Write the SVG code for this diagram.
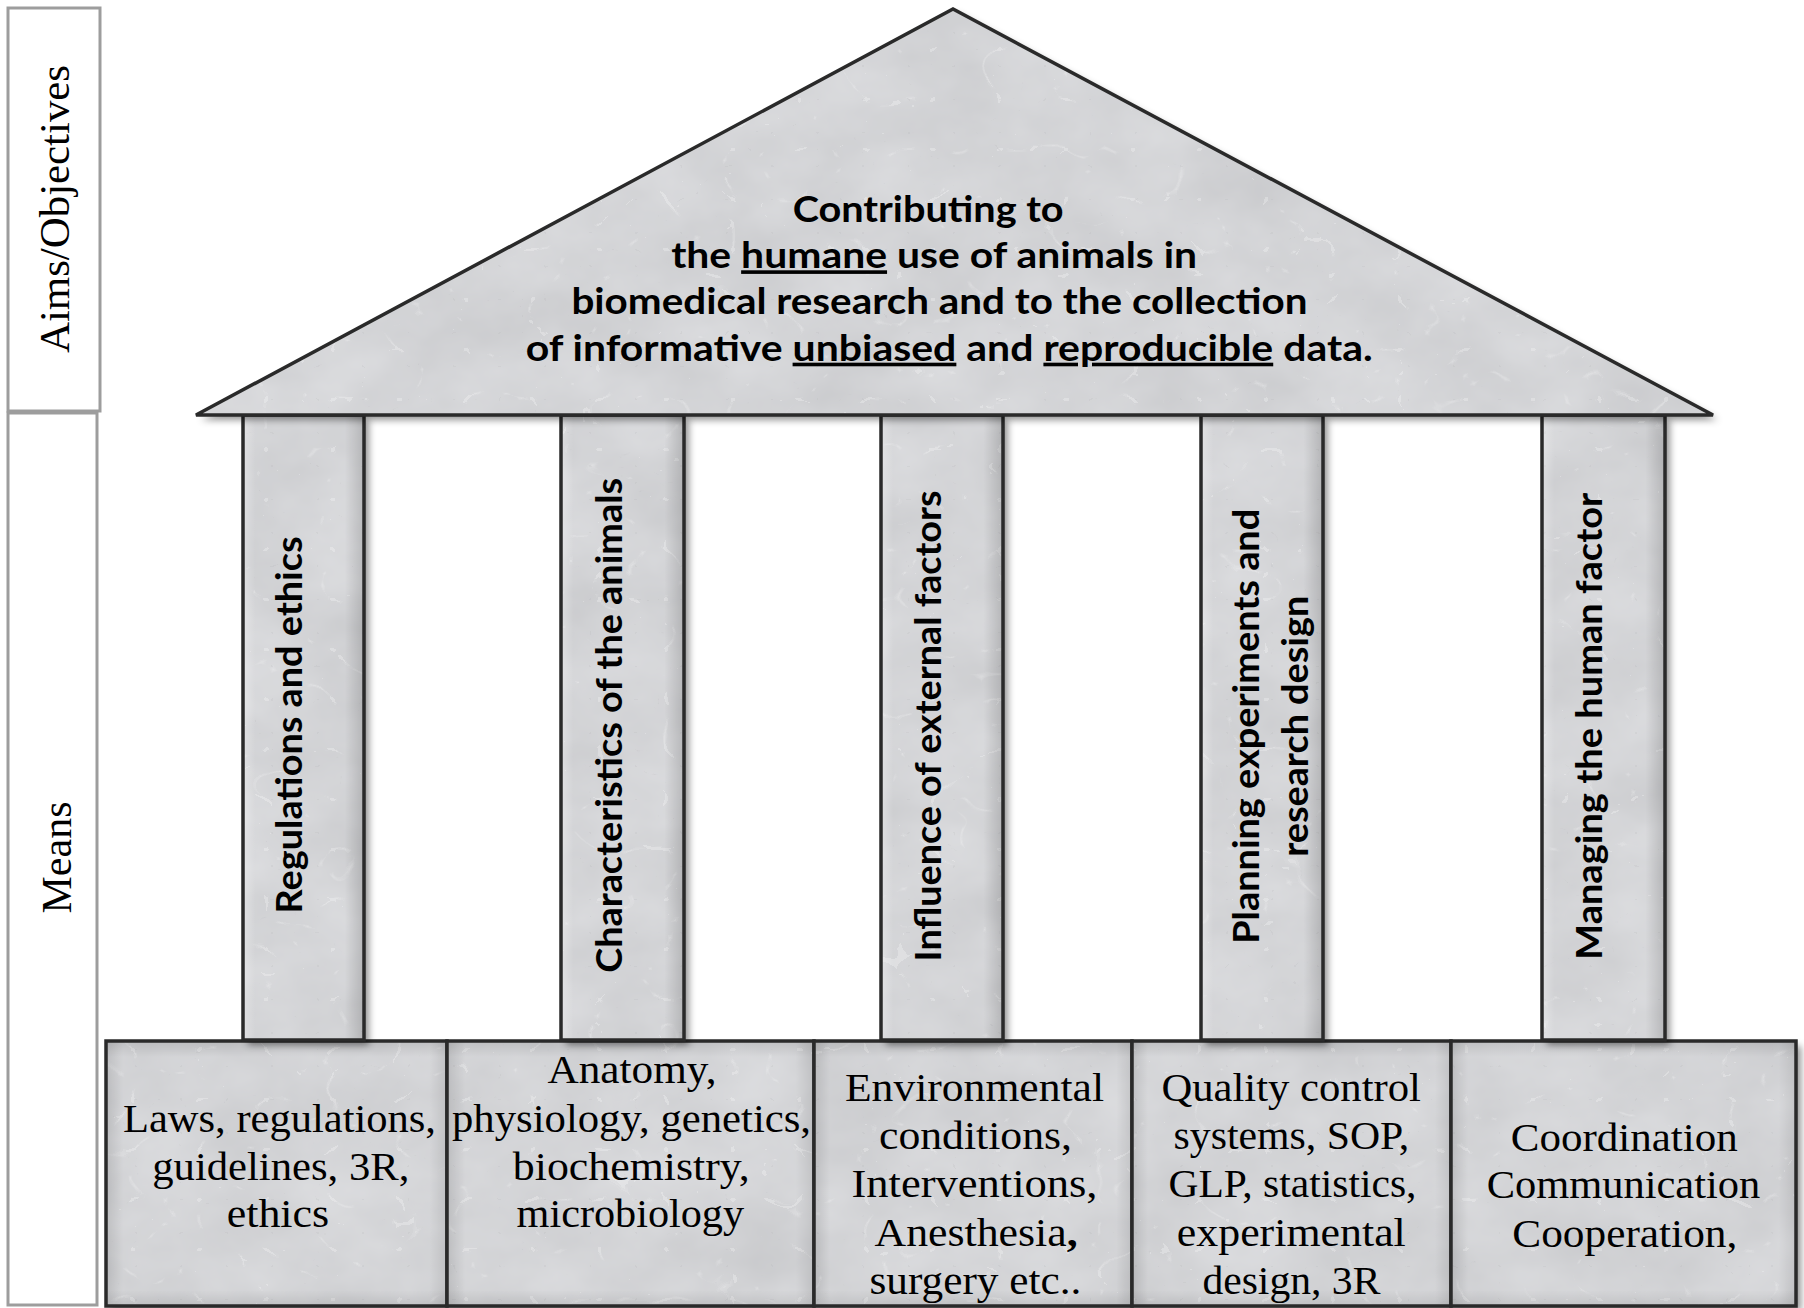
<svg xmlns="http://www.w3.org/2000/svg" width="1804" height="1308" viewBox="0 0 1804 1308">
<style>
  .side { fill: #ffffff; stroke: #9d9d9d; stroke-width: 3; }
  .sideText { font-family: "Liberation Serif", "DejaVu Serif", serif; font-size: 42px; fill: #000; }
  .stone { fill: #d3d4d6; filter: url(#stone); }
  .edge { fill: none; stroke: #2a2a2a; stroke-width: 3.5; stroke-linejoin: miter; }
  .colShade { fill: url(#colGrad); }
  .boxShadeH { fill: url(#boxGradH); }
  .boxShadeV { fill: url(#boxGradV); }
  .roofText { font-family: "Lato", "Open Sans", "Liberation Sans", sans-serif; font-weight: bold; font-size: 36px; fill: #000; }
  .colText { font-family: "Lato", "Open Sans", "Liberation Sans", sans-serif; font-weight: bold; font-size: 37px; fill: #000; }
  .baseText { font-family: "Liberation Serif", "DejaVu Serif", serif; font-size: 40px; fill: #000; }
  .u { text-decoration: underline; }
</style>
<defs>
  <filter id="stone" x="-5%" y="-5%" width="115%" height="115%" color-interpolation-filters="sRGB">
    <feTurbulence type="fractalNoise" baseFrequency="0.01 0.014" numOctaves="4" seed="9" result="n"/>
    <feColorMatrix in="n" type="matrix" values="0.08 0 0 0 0.79  0.08 0 0 0 0.793  0.08 0 0 0 0.803  0 0 0 0 1" result="base"/>
    <feTurbulence type="turbulence" baseFrequency="0.022 0.03" numOctaves="3" seed="23" result="t"/>
    <feColorMatrix in="t" type="matrix" values="0 0 0 0 0.66  0 0 0 0 0.66  0 0 0 0 0.67  -4 0 0 0 0.14" result="veins"/>
    <feTurbulence type="turbulence" baseFrequency="0.015 0.02" numOctaves="2" seed="41" result="t2"/>
    <feColorMatrix in="t2" type="matrix" values="0 0 0 0 1  0 0 0 0 1  0 0 0 0 1  -5 0 0 0 0.25" result="wveins"/>
    <feComposite in="wveins" in2="base" operator="over" result="m1"/>
    <feComposite in="veins" in2="m1" operator="over" result="m"/>
    <feComposite in="m" in2="SourceAlpha" operator="in" result="marble"/>
    <feGaussianBlur in="SourceAlpha" stdDeviation="3.5"/>
    <feOffset dx="5" dy="5" result="b"/>
    <feFlood flood-color="#000" flood-opacity="0.42"/>
    <feComposite in2="b" operator="in" result="shadow"/>
    <feMerge>
      <feMergeNode in="shadow"/>
      <feMergeNode in="marble"/>
    </feMerge>
  </filter>
  <linearGradient id="colGrad" x1="0" y1="0" x2="1" y2="0">
    <stop offset="0" stop-color="#fff" stop-opacity="0.3"/>
    <stop offset="0.1" stop-color="#fff" stop-opacity="0"/>
    <stop offset="0.84" stop-color="#000" stop-opacity="0"/>
    <stop offset="1" stop-color="#000" stop-opacity="0.15"/>
  </linearGradient>
  <linearGradient id="boxGradH" x1="0" y1="0" x2="1" y2="0">
    <stop offset="0" stop-color="#000" stop-opacity="0.11"/>
    <stop offset="0.05" stop-color="#000" stop-opacity="0"/>
    <stop offset="0.95" stop-color="#000" stop-opacity="0"/>
    <stop offset="1" stop-color="#000" stop-opacity="0.09"/>
  </linearGradient>
  <linearGradient id="boxGradV" x1="0" y1="0" x2="0" y2="1">
    <stop offset="0" stop-color="#000" stop-opacity="0.11"/>
    <stop offset="0.06" stop-color="#000" stop-opacity="0"/>
    <stop offset="0.94" stop-color="#000" stop-opacity="0"/>
    <stop offset="1" stop-color="#000" stop-opacity="0.09"/>
  </linearGradient>
</defs>

<rect width="1804" height="1308" fill="#ffffff"/>

<g id="label-aims">
  <rect class="side" x="8" y="8" width="92" height="403"/>
  <text class="sideText" transform="translate(69,209) rotate(-90)" text-anchor="middle" textLength="288" lengthAdjust="spacingAndGlyphs">Aims/Objectives</text>
</g>
<g id="label-means">
  <rect class="side" x="8" y="413" width="89" height="892"/>
  <text class="sideText" transform="translate(70.5,857.5) rotate(-90)" text-anchor="middle" textLength="112" lengthAdjust="spacingAndGlyphs">Means</text>
</g>

<g id="base-1">
  <rect class="stone" x="106" y="1041" width="341" height="265"/>
  <rect class="boxShadeH" x="106" y="1041" width="341" height="265"/>
  <rect class="boxShadeV" x="106" y="1041" width="341" height="265"/>
  <rect class="edge" x="106" y="1041" width="341" height="265"/>
  <text class="baseText">
    <tspan x="123" y="1131.7" textLength="313" lengthAdjust="spacingAndGlyphs">Laws, regulations,</tspan>
    <tspan x="152.3" y="1179.5" textLength="257" lengthAdjust="spacingAndGlyphs">guidelines, 3R,</tspan>
    <tspan x="226.7" y="1227" textLength="102.5" lengthAdjust="spacingAndGlyphs">ethics</tspan>
  </text>
</g>
<g id="base-2">
  <rect class="stone" x="447" y="1041" width="367" height="265"/>
  <rect class="boxShadeH" x="447" y="1041" width="367" height="265"/>
  <rect class="boxShadeV" x="447" y="1041" width="367" height="265"/>
  <rect class="edge" x="447" y="1041" width="367" height="265"/>
  <text class="baseText">
    <tspan x="547.5" y="1083.3" textLength="169" lengthAdjust="spacingAndGlyphs">Anatomy,</tspan>
    <tspan x="452" y="1131.7" textLength="359" lengthAdjust="spacingAndGlyphs">physiology, genetics,</tspan>
    <tspan x="512.8" y="1179.5" textLength="237" lengthAdjust="spacingAndGlyphs">biochemistry,</tspan>
    <tspan x="516.6" y="1227" textLength="227.5" lengthAdjust="spacingAndGlyphs">microbiology</tspan>
  </text>
</g>
<g id="base-3">
  <rect class="stone" x="814" y="1041" width="318" height="265"/>
  <rect class="boxShadeH" x="814" y="1041" width="318" height="265"/>
  <rect class="boxShadeV" x="814" y="1041" width="318" height="265"/>
  <rect class="edge" x="814" y="1041" width="318" height="265"/>
  <text class="baseText">
    <tspan x="845" y="1100.7" textLength="259" lengthAdjust="spacingAndGlyphs">Environmental</tspan>
    <tspan x="879" y="1149" textLength="193" lengthAdjust="spacingAndGlyphs">conditions,</tspan>
    <tspan x="851.5" y="1197.3" textLength="246" lengthAdjust="spacingAndGlyphs">Interventions,</tspan>
    <tspan x="874.6" y="1245.6" textLength="203" lengthAdjust="spacingAndGlyphs">Anesthesia<tspan font-weight="bold">,</tspan></tspan>
    <tspan x="869.4" y="1293.9" textLength="212" lengthAdjust="spacingAndGlyphs">surgery etc..</tspan>
  </text>
</g>
<g id="base-4">
  <rect class="stone" x="1132" y="1041" width="319" height="265"/>
  <rect class="boxShadeH" x="1132" y="1041" width="319" height="265"/>
  <rect class="boxShadeV" x="1132" y="1041" width="319" height="265"/>
  <rect class="edge" x="1132" y="1041" width="319" height="265"/>
  <text class="baseText">
    <tspan x="1161.4" y="1100.7" textLength="259.5" lengthAdjust="spacingAndGlyphs">Quality control</tspan>
    <tspan x="1173.6" y="1149" textLength="235.5" lengthAdjust="spacingAndGlyphs">systems, SOP,</tspan>
    <tspan x="1168.5" y="1197.3" textLength="248" lengthAdjust="spacingAndGlyphs">GLP, statistics,</tspan>
    <tspan x="1176.8" y="1245.6" textLength="229" lengthAdjust="spacingAndGlyphs">experimental</tspan>
    <tspan x="1202.4" y="1293.9" textLength="178" lengthAdjust="spacingAndGlyphs">design, 3R</tspan>
  </text>
</g>
<g id="base-5">
  <rect class="stone" x="1451" y="1041" width="345" height="265"/>
  <rect class="boxShadeH" x="1451" y="1041" width="345" height="265"/>
  <rect class="boxShadeV" x="1451" y="1041" width="345" height="265"/>
  <rect class="edge" x="1451" y="1041" width="345" height="265"/>
  <text class="baseText">
    <tspan x="1510.7" y="1150.5" textLength="227" lengthAdjust="spacingAndGlyphs">Coordination</tspan>
    <tspan x="1486.7" y="1198.3" textLength="273.5" lengthAdjust="spacingAndGlyphs">Communication</tspan>
    <tspan x="1512.3" y="1246.7" textLength="225" lengthAdjust="spacingAndGlyphs">Cooperation,</tspan>
  </text>
</g>

<g id="pillar-1">
  <rect class="stone" x="243" y="415" width="121" height="625"/>
  <rect class="colShade" x="243" y="415" width="121" height="625"/>
  <rect class="edge" x="243" y="415" width="121" height="625"/>
  <text class="colText" transform="translate(301.5,725) rotate(-90)" text-anchor="middle" textLength="377" lengthAdjust="spacingAndGlyphs">Regulations and ethics</text>
</g>
<g id="pillar-2">
  <rect class="stone" x="561" y="415" width="123" height="625"/>
  <rect class="colShade" x="561" y="415" width="123" height="625"/>
  <rect class="edge" x="561" y="415" width="123" height="625"/>
  <text class="colText" transform="translate(622,725.3) rotate(-90)" text-anchor="middle" textLength="495" lengthAdjust="spacingAndGlyphs">Characteristics of the animals</text>
</g>
<g id="pillar-3">
  <rect class="stone" x="881" y="415" width="122" height="625"/>
  <rect class="colShade" x="881" y="415" width="122" height="625"/>
  <rect class="edge" x="881" y="415" width="122" height="625"/>
  <text class="colText" transform="translate(940.5,726) rotate(-90)" text-anchor="middle" textLength="471" lengthAdjust="spacingAndGlyphs">Influence of external factors</text>
</g>
<g id="pillar-4">
  <rect class="stone" x="1201" y="415" width="122" height="625"/>
  <rect class="colShade" x="1201" y="415" width="122" height="625"/>
  <rect class="edge" x="1201" y="415" width="122" height="625"/>
  <text class="colText" transform="translate(1259,726.3) rotate(-90)" text-anchor="middle" textLength="435" lengthAdjust="spacingAndGlyphs">Planning experiments and</text>
  <text class="colText" transform="translate(1308,726.3) rotate(-90)" text-anchor="middle" textLength="261" lengthAdjust="spacingAndGlyphs">research design</text>
</g>
<g id="pillar-5">
  <rect class="stone" x="1542" y="415" width="123" height="625"/>
  <rect class="colShade" x="1542" y="415" width="123" height="625"/>
  <rect class="edge" x="1542" y="415" width="123" height="625"/>
  <text class="colText" transform="translate(1601.7,726.3) rotate(-90)" text-anchor="middle" textLength="467" lengthAdjust="spacingAndGlyphs">Managing the human factor</text>
</g>

<g id="roof">
  <polygon class="stone" points="196,415 953,9 1713,415"/>
  <polygon class="edge" points="196,415 953,9 1713,415"/>
  <text class="roofText" text-anchor="middle">
    <tspan x="932.5" y="221.7" textLength="271" lengthAdjust="spacingAndGlyphs">Contributing to</tspan>
    <tspan x="938.5" y="268.3" textLength="526" lengthAdjust="spacingAndGlyphs">the <tspan class="u">humane</tspan> use of animals in</tspan>
    <tspan x="943.8" y="314" textLength="736" lengthAdjust="spacingAndGlyphs">biomedical research and to the collection</tspan>
    <tspan x="949.2" y="360.7" textLength="847" lengthAdjust="spacingAndGlyphs">of informative <tspan class="u">unbiased</tspan> and <tspan class="u">reproducible</tspan> data.</tspan>
  </text>
</g>
</svg>
